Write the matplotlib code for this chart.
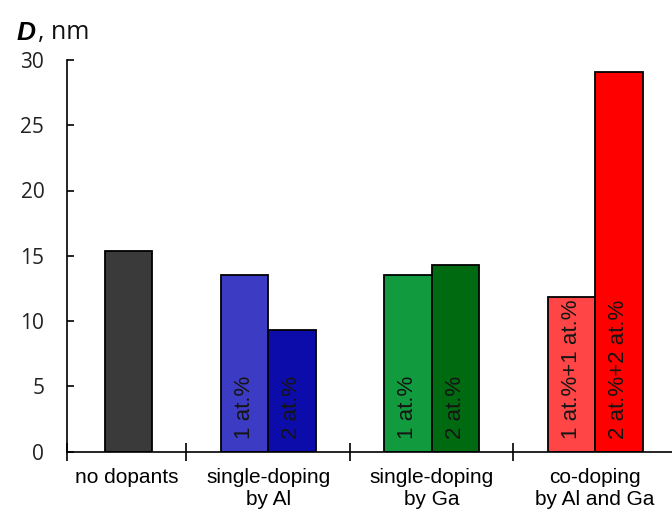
import matplotlib
matplotlib.use("Agg")
import matplotlib.pyplot as plt
import numpy as np

categories = ["no dopants", "single-doping\nby Al", "single-doping\nby Ga", "co-doping\nby Al and Ga"]
# left bar / right bar of each cluster (None = empty)
left_values = [None, 13.5, 13.5, 11.85]
right_values = [15.4, 9.3, 14.3, 29.1]
left_labels = ["", "1 at.%", "1 at.%", "1 at.%+1 at.%"]
right_labels = ["", "2 at.%", "2 at.%", "2 at.%+2 at.%"]
left_colors = ["#ffffff", "#3b3bc4", "#129a3e", "#ff4545"]
right_colors = ["#3a3a3a", "#0c0caa", "#006a10", "#ff0000"]
yticks = [0, 5, 10, 15, 20, 25, 30]

fig = plt.figure(figsize=(6.72, 5.09), dpi=100)
ax = fig.add_axes([66.5 / 672, 1 - 451.5 / 509, 1 - 66.5 / 672, (451.5 - 60) / 509])

w = 0.29
x = np.arange(len(categories))
for i in range(len(categories)):
    if left_values[i] is not None:
        ax.bar(x[i] - w / 2, left_values[i], width=w, color=left_colors[i],
               edgecolor="black", linewidth=1.3, zorder=2)
        ax.text(x[i] - w / 2, 0.95, left_labels[i], rotation=90, ha="center", va="bottom",
                fontsize=16, family="Liberation Sans", color="#151515", zorder=3)
    if right_values[i] is not None:
        ax.bar(x[i] + w / 2, right_values[i], width=w, color=right_colors[i],
               edgecolor="black", linewidth=1.3, zorder=2)
        if right_labels[i]:
            ax.text(x[i] + w / 2, 0.95, right_labels[i], rotation=90, ha="center", va="bottom",
                    fontsize=16, family="Liberation Sans", color="#151515", zorder=3)

xmin = -0.234
xmax = 3.47
ax.set_xlim(xmin, xmax)
ax.set_ylim(0, 30)

for s in ["top", "right"]:
    ax.spines[s].set_visible(False)
ax.spines["left"].set_linewidth(1.2)
ax.spines["bottom"].set_linewidth(1.2)
ax.spines["left"].set_bounds(0, 30)

ax.set_yticks(yticks)
ax.set_yticklabels([str(v) for v in yticks], family="Open Sans", fontsize=15, color="#222222")
ax.tick_params(axis="y", direction="in", length=5, width=1.2, pad=16)

# category boundary ticks (minor) and label positions (major)
ax.set_xticks([xmin, 0.5, 1.5, 2.5], minor=True)
ax.tick_params(axis="x", which="minor", direction="inout", length=13, width=1.2)
label_pos = [(xmin + 0.5) / 2, 1, 2, 3]
ax.set_xticks(label_pos)
ax.set_xticklabels(categories, family="Liberation Sans", fontsize=15, linespacing=1.2)
ax.tick_params(axis="x", which="major", length=0, pad=12)

fig.text(17 / 672, 1 - 33 / 509, "D", fontsize=19, va="center", ha="left",
         family="Liberation Sans", fontweight="bold", style="italic")
fig.text(38 / 672, 1 - 33 / 509, ", nm", fontsize=18, va="center", ha="left", family="Open Sans",
         color="#111111")

fig.savefig("out.png", dpi=100)
